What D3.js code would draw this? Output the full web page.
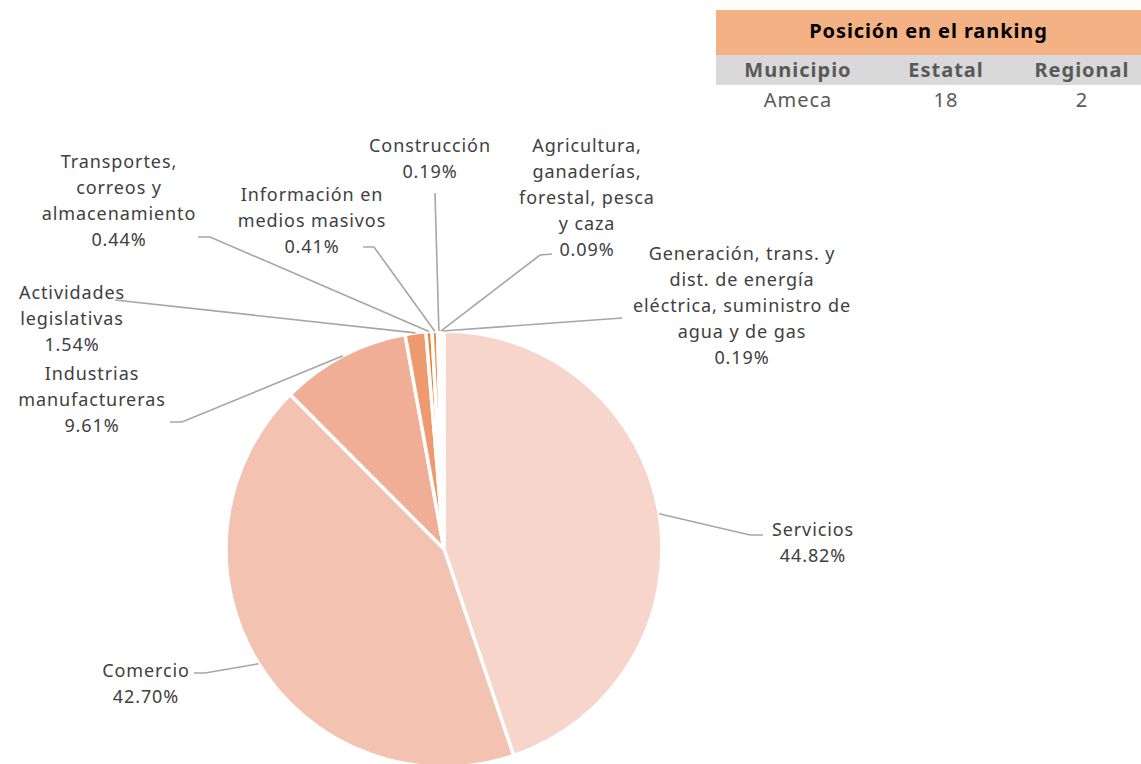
<!DOCTYPE html>
<html>
<head>
<meta charset="utf-8">
<script src="https://cdn.jsdelivr.net/npm/d3@7"></script>
<style>
  html, body { margin: 0; padding: 0; background: #fff; }
  svg { display: block; }
  text { font-family: "Noto Sans", sans-serif; }
</style>
</head>
<body>
<svg id="chart" width="1141" height="764"></svg>
<script>
// ---- data ----
const sectors = [
  "Servicios",
  "Comercio",
  "Industrias manufactureras",
  "Actividades legislativas",
  "Transportes, correos y almacenamiento",
  "Información en medios masivos",
  "Construcción",
  "Agricultura, ganaderías, forestal, pesca y caza",
  "Generación, trans. y dist. de energía eléctrica, suministro de agua y de gas"
];
const shares = [44.82, 42.70, 9.61, 1.54, 0.44, 0.41, 0.19, 0.09, 0.19];
const labelLines = [
  ["Servicios"],
  ["Comercio"],
  ["Industrias", "manufactureras"],
  ["Actividades", "legislativas"],
  ["Transportes,", "correos y", "almacenamiento"],
  ["Información en", "medios masivos"],
  ["Construcción"],
  ["Agricultura,", "ganaderías,", "forestal, pesca", "y caza"],
  ["Generación, trans. y", "dist. de energía", "eléctrica, suministro de", "agua y de gas"]
];
const sliceColors = ["#F7D5CA", "#F4C2B1", "#F1AE96", "#EF9A6E", "#ED7D31", "#EE8A4A", "#F4B183", "#E97525", "#F8CBAD"];

const rankingTitle = "Posición en el ranking";
const rankingHeaders = ["Municipio", "Estatal", "Regional"];
const rankingValues = ["Ameca", "18", "2"];

// ---- layout (label placement) ----
const labelLayout = [
  { cx: 813, y0: 530, pts: [[750, 535], [763, 535]] },
  { cx: 146, y0: 671, pts: [[205, 673], [194, 673]] },
  { cx: 92,  y0: 374, pts: [[182, 422], [170, 422]] },
  { cx: 72,  y0: 293, pts: [[115, 300]] },
  { cx: 119, y0: 162, pts: [[210, 237], [198, 237]] },
  { cx: 312, y0: 195, pts: [[374, 247], [363, 247]] },
  { cx: 430, y0: 146, pts: [[435, 193]] },
  { cx: 587, y0: 146, pts: [[540, 255], [552, 254]] },
  { cx: 742, y0: 254, pts: [[622, 318]] }
];

const svg = d3.select("#chart");
const cx = 444, cy = 549, R = 218;
const lineH = 26;
const fontSize = 18;

const pie = d3.pie().sort(null).value(d => d.v).startAngle(0).endAngle(2 * Math.PI);
const arcs = pie(shares.map((v, i) => ({ v, i })));
const arcGen = d3.arc().innerRadius(0).outerRadius(R);

const g = svg.append("g").attr("transform", `translate(${cx},${cy})`);
g.selectAll("path.slice")
  .data(arcs)
  .join("path")
  .attr("class", "slice")
  .attr("d", arcGen)
  .attr("fill", d => sliceColors[d.data.i])
  .attr("stroke", "#fff")
  .attr("stroke-width", 3.5)
  .attr("stroke-linejoin", "round");

// leader lines
const fmt = v => v.toFixed(2) + "%";
const leaderG = svg.append("g");
arcs.forEach((a, i) => {
  const mid = (a.startAngle + a.endAngle) / 2;
  const p0 = [cx + R * Math.sin(mid), cy - R * Math.cos(mid)];
  const pts = [p0].concat(labelLayout[i].pts);
  leaderG.append("path")
    .attr("d", d3.line()(pts))
    .attr("fill", "none")
    .attr("stroke", "#A6A6A6")
    .attr("stroke-width", 1.6);
});

// labels
const labG = svg.append("g");
labelLines.forEach((lines, i) => {
  const L = labelLayout[i];
  const all = lines.concat([fmt(shares[i])]);
  const t = labG.append("text")
    .attr("text-anchor", "middle")
    .attr("font-size", fontSize)
    .attr("fill", "#404040")
    .attr("letter-spacing", 0.9);
  all.forEach((s, k) => {
    t.append("tspan")
      .attr("x", L.cx)
      .attr("y", L.y0 + k * lineH)
      .attr("dy", "0.35em")
      .text(s);
  });
});

// ranking table
const tx = 716, tw = 425;
svg.append("rect").attr("x", tx).attr("y", 10).attr("width", tw).attr("height", 45).attr("fill", "#F4B183");
svg.append("rect").attr("x", tx).attr("y", 55).attr("width", tw).attr("height", 30).attr("fill", "#D9D9D9");
svg.append("text")
  .attr("x", tx + tw / 2).attr("y", 31).attr("dy", "0.35em")
  .attr("text-anchor", "middle").attr("font-size", 20).attr("font-weight", "bold")
  .attr("letter-spacing", 0.9)
  .attr("fill", "#000").text(rankingTitle);
const colX = [798, 946, 1082];
rankingHeaders.forEach((h, k) => {
  svg.append("text")
    .attr("x", colX[k]).attr("y", 70).attr("dy", "0.35em")
    .attr("text-anchor", "middle").attr("font-size", 20).attr("font-weight", "bold")
    .attr("letter-spacing", 1.0)
    .attr("fill", "#595959").text(h);
});
rankingValues.forEach((v, k) => {
  svg.append("text")
    .attr("x", colX[k]).attr("y", 100).attr("dy", "0.35em")
    .attr("text-anchor", "middle").attr("font-size", 20)
    .attr("fill", "#595959").attr("letter-spacing", 1.0).text(v);
});
</script>
</body>
</html>
